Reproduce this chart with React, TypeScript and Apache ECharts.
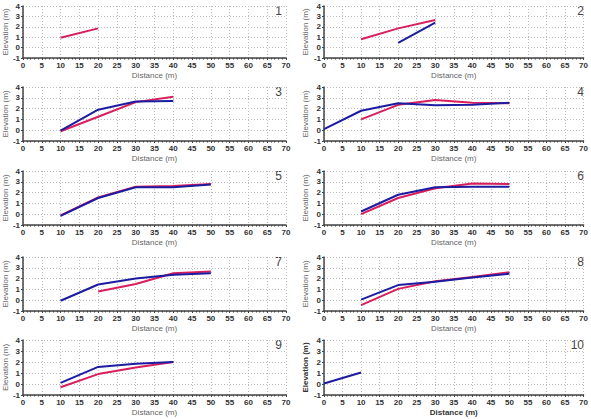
import React, { useEffect, useRef } from "react";
import * as echarts from "echarts";

// Survey stations along each transect (m)
const distance = [0, 10, 20, 30, 40, 50];
const xTicks = { min: 0, max: 70, interval: 5 };
const yTicks = { min: -1, max: 4, interval: 1 };
const panelLabels = ["1", "2", "3", "4", "5", "6", "7", "8", "9", "10"];

// Elevation (m) of the first survey (red) per transect
const redProfiles: (number | null)[][] = [
  [null, 0.95, 1.85, null, null, null],
  [null, 0.8, 1.85, 2.65, null, null],
  [null, -0.1, 1.25, 2.6, 3.1, null],
  [null, 1.0, 2.35, 2.8, 2.55, 2.5],
  [null, -0.1, 1.55, 2.55, 2.6, 2.8],
  [null, 0.0, 1.5, 2.4, 2.85, 2.8],
  [null, null, 0.8, 1.5, 2.5, 2.65],
  [null, -0.45, 1.05, 1.75, 2.15, 2.6],
  [null, -0.3, 0.9, 1.5, 2.0, null],
  [null, null, null, null, null, null],
];

// Elevation (m) of the second survey (blue) per transect
const blueProfiles: (number | null)[][] = [
  [null, null, null, null, null, null],
  [null, null, 0.45, 2.4, null, null],
  [null, -0.05, 1.9, 2.65, 2.7, null],
  [0.1, 1.8, 2.5, 2.3, 2.35, 2.55],
  [null, -0.15, 1.5, 2.5, 2.5, 2.75],
  [null, 0.25, 1.8, 2.5, 2.55, 2.55],
  [null, -0.05, 1.45, 2.0, 2.35, 2.5],
  [null, 0.05, 1.4, 1.7, 2.1, 2.45],
  [null, 0.1, 1.55, 1.85, 2.0, null],
  [0.05, 1.05, null, null, null, null],
];

const RED = "#d81e5b";
const BLUE = "#1c1ca2";
const W = 591;
const H = 419;
const rowTops = [6, 87, 171, 257, 340];
const rowHeights = [52, 54, 54, 54, 55];
const colLeft = [21, 324];
const colRight = [305, 3];
const FONT = "Liberation Sans";

function toPoints(values: (number | null)[]) {
  return distance.map((d, i) => [d, values[i]]);
}

export default function App() {
  const ref = useRef<HTMLDivElement>(null);

  useEffect(() => {
    if (!ref.current) return;
    const chart = echarts.init(ref.current, null, { renderer: "svg" });

    const grids: any[] = [];
    const xAxes: any[] = [];
    const yAxes: any[] = [];
    const series: any[] = [];
    const graphics: any[] = [];

    panelLabels.forEach((label, p) => {
      const row = Math.floor(p / 2);
      const col = p % 2;
      const bold = p === 9;
      grids.push({
        left: colLeft[col],
        right: colRight[col],
        top: rowTops[row],
        height: rowHeights[row],
      });
      xAxes.push({
        type: "value",
        gridIndex: p,
        ...xTicks,
        name: "Distance (m)",
        nameLocation: "middle",
        nameGap: 13,
        nameTextStyle: {
          fontFamily: FONT,
          fontSize: 8,
          color: bold ? "#333" : "#666",
          fontWeight: bold ? "bold" : "normal",
        },
        axisLine: { show: true, onZero: false, lineStyle: { color: "#444", width: 1.5 } },
        axisTick: { show: true, length: 2, lineStyle: { color: "#444" } },
        minorTick: { show: true, splitNumber: 5, length: 1.5, lineStyle: { color: "#444" } },
        axisLabel: {
          fontFamily: FONT,
          fontSize: 8,
          fontWeight: "bold",
          color: "#333",
          margin: 3,
        },
        splitLine: { show: true, lineStyle: { color: "#bbb", type: [1, 2], width: 1 } },
      });
      yAxes.push({
        type: "value",
        gridIndex: p,
        ...yTicks,
        name: "Elevation (m)",
        nameLocation: "middle",
        nameGap: 13,
        nameTextStyle: {
          fontFamily: FONT,
          fontSize: 8,
          color: bold ? "#333" : "#666",
          fontWeight: bold ? "bold" : "normal",
        },
        axisLine: { show: true, onZero: false, lineStyle: { color: "#444", width: 1.5 } },
        axisTick: { show: true, length: 2, lineStyle: { color: "#444" } },
        axisLabel: {
          fontFamily: FONT,
          fontSize: 8,
          fontWeight: "bold",
          color: "#333",
          margin: 3,
        },
        splitLine: { show: true, lineStyle: { color: "#bbb", type: [1, 2], width: 1 } },
      });
      const red = redProfiles[p];
      const blue = blueProfiles[p];
      if (red.some((v) => v !== null)) {
        series.push({
          type: "line",
          xAxisIndex: p,
          yAxisIndex: p,
          data: toPoints(red),
          symbol: "none",
          lineStyle: { color: RED, width: 2 },
          z: 2,
        });
      }
      if (blue.some((v) => v !== null)) {
        series.push({
          type: "line",
          xAxisIndex: p,
          yAxisIndex: p,
          data: toPoints(blue),
          symbol: "none",
          lineStyle: { color: BLUE, width: 2 },
          z: 3,
        });
      }
      const rightEdge = col === 0 ? W - colRight[0] : W - colRight[1];
      graphics.push({
        type: "text",
        x: rightEdge - 4,
        y: rowTops[row] + 5,
        style: {
          text: label,
          fontFamily: FONT,
          fontSize: 12,
          fill: "#444",
          textAlign: "right",
          textVerticalAlign: "middle",
        },
      });
    });

    chart.setOption({
      animation: false,
      backgroundColor: "#fff",
      grid: grids,
      xAxis: xAxes,
      yAxis: yAxes,
      series,
      graphic: graphics,
    });

    return () => chart.dispose();
  }, []);

  return (
    <div
      ref={ref}
      style={{ position: "fixed", left: 0, top: 0, width: W, height: H }}
    />
  );
}
